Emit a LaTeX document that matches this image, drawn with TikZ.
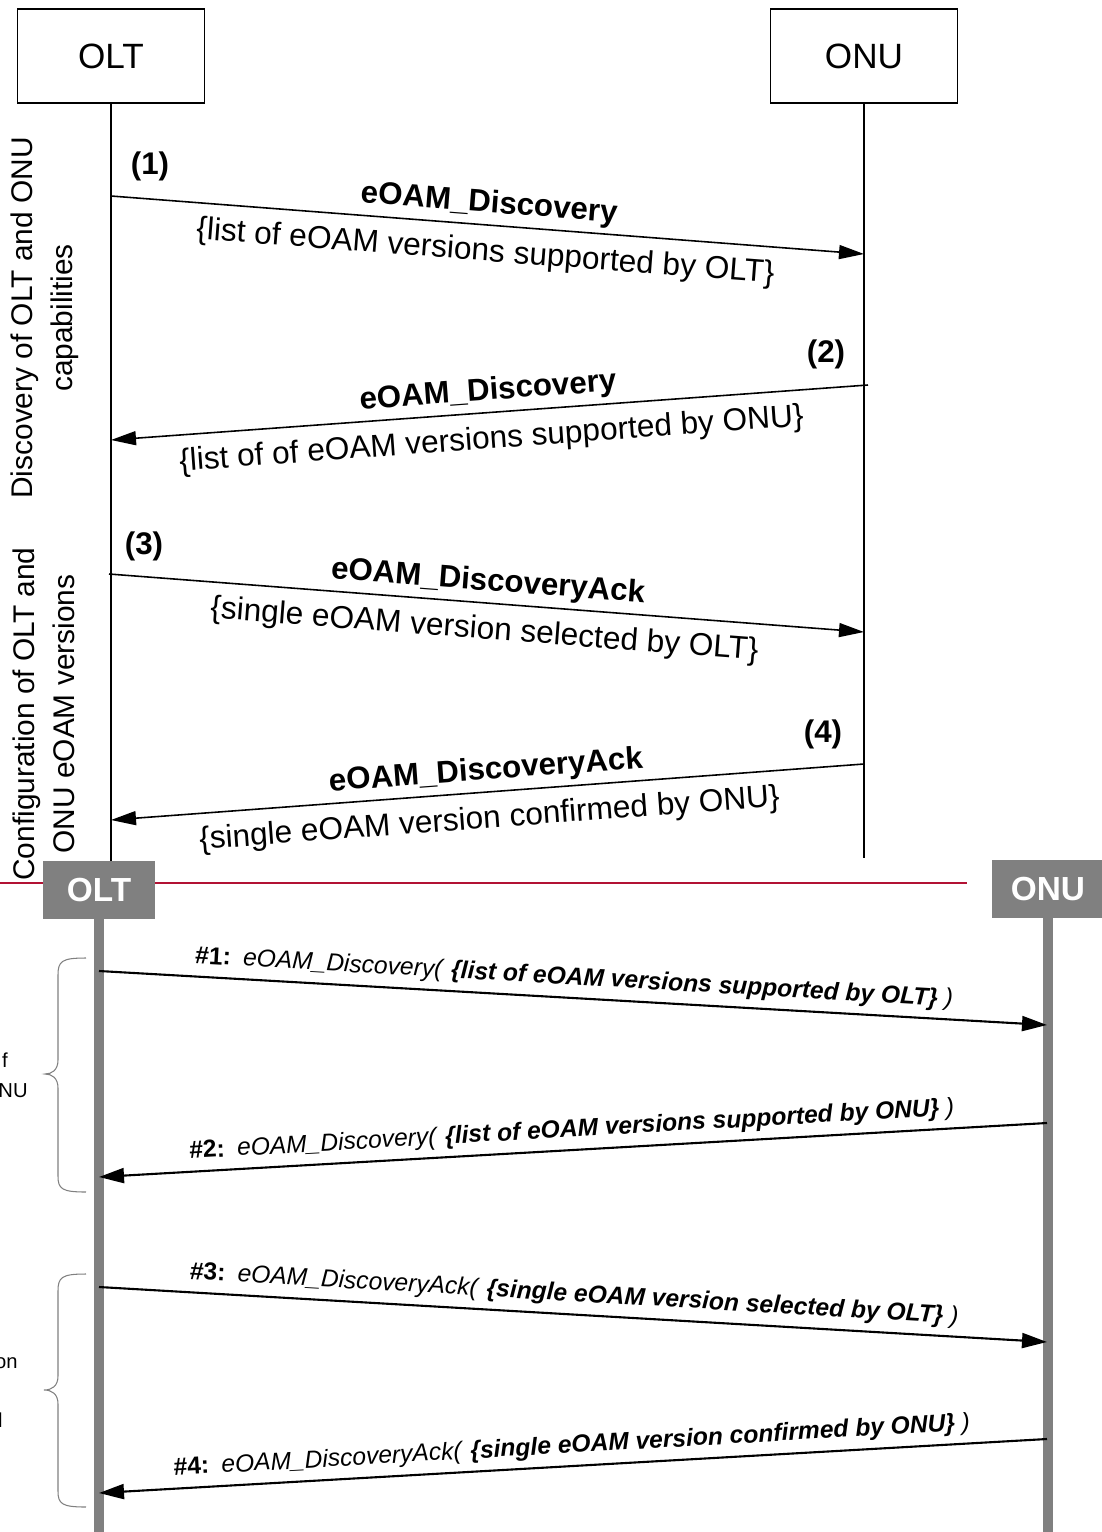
\documentclass[tikz,border=0pt]{standalone}
\usepackage{fontspec}
\setmainfont{Liberation Sans}
\usetikzlibrary{arrows.meta,positioning,calc}

\definecolor{hdrgray}{RGB}{128,128,128}
\definecolor{sepred}{RGB}{178,18,52}

\newcommand{\boxfont}{\fontsize{20pt}{24pt}\selectfont}
\newcommand{\hdrfont}{\fontsize{19pt}{23pt}\selectfont}
\newcommand{\msgfont}{\fontsize{17.8pt}{21pt}\selectfont}
\newcommand{\argfont}{\fontsize{18pt}{22pt}\selectfont}
\newcommand{\sidefont}{\fontsize{17pt}{23pt}\selectfont}
\newcommand{\hashfont}{\fontsize{14pt}{17pt}\selectfont}
\newcommand{\cutfont}{\fontsize{11.5pt}{14pt}\selectfont}

\begin{document}
\begin{tikzpicture}[x=0.02cm, y=-0.02cm,
  actor/.style={draw, line width=1.1pt, minimum width=3.74cm, minimum height=1.88cm, font=\boxfont},
  hdr/.style={fill=hdrgray, text=white, minimum width=2.24cm, minimum height=1.16cm, font=\hdrfont\bfseries},
  life/.style={line width=0.9pt},
  glife/.style={hdrgray, line width=0.21cm},
  msg/.style={line width=0.9pt, -{Triangle[length=0.5cm,width=0.28cm]}},
  bmsg/.style={line width=1.2pt, -{Triangle[length=0.5cm,width=0.3cm]}},
  num/.style={font=\msgfont\bfseries},
  mname/.style={font=\msgfont\bfseries, inner sep=3pt},
  margs/.style={font=\argfont, inner sep=2pt},
  hcall/.style={font=\hashfont, inner sep=4pt},
  brc/.style={hdrgray, line width=0.6pt},
]
  \useasboundingbox (0,0) rectangle (1102,1532);

  % upper chart: plain boxes and thin lifelines
  \node[actor] (olt) at (111,56) {OLT};
  \node[actor] (onu) at (864,56) {ONU};
  \coordinate (oltend) at (111,862);
  \coordinate (onuend) at (864,858);
  \draw[life] (olt.south) -- (oltend);
  \draw[life] (onu.south) -- (onuend);

  % phase labels
  \node[rotate=90, align=center, font=\sidefont] (disc) at (45,318)
    {Discovery of OLT and ONU\\capabilities};
  \node[rotate=90, align=center, font=\sidefont] (conf) at (44,714)
    {Configuration of OLT and\\ONU eOAM versions};

  % messages (1)-(4)
  \coordinate (a1) at (111,196);
  \coordinate (b1) at (864,254);
  \coordinate (a2) at (868,385);
  \coordinate (b2) at (111,440);
  \coordinate (a3) at (109,574);
  \coordinate (b3) at (864,632);
  \coordinate (a4) at (864,764);
  \coordinate (b4) at (111,820);

  \draw[msg] (a1) -- (b1)
    node[midway, sloped, above, mname] {eOAM\_Discovery}
    node[midway, sloped, below, margs, yshift=-5pt] {\{list of eOAM versions supported by OLT\}};
  \draw[msg] (a2) -- (b2)
    node[midway, sloped, above, mname] {eOAM\_Discovery}
    node[midway, sloped, below, margs, yshift=-5pt] {\{list of of eOAM versions supported by ONU\}};
  \draw[msg] (a3) -- (b3)
    node[midway, sloped, above, mname] {eOAM\_DiscoveryAck}
    node[midway, sloped, below, margs, yshift=-5pt] {\{single eOAM version selected by OLT\}};
  \draw[msg] (a4) -- (b4)
    node[midway, sloped, above, mname] {eOAM\_DiscoveryAck}
    node[midway, sloped, below, margs, yshift=-5pt] {\{single eOAM version confirmed by ONU\}};

  \node[num] (n1) at (150,166) {(1)};
  \node[num] (n2) at (826,354) {(2)};
  \node[num] (n3) at (144,546) {(3)};
  \node[num] (n4) at (823,734) {(4)};

  % separator
  \draw[sepred, line width=1.1pt] (0,883) -- (967,883);

  % lower chart: grey headers and thick lifelines
  \node[hdr] (olt2) at (99,890) {OLT};
  \node[hdr] (onu2) at (1048,889) {ONU};
  \coordinate (olt2end) at (99,1532);
  \coordinate (onu2end) at (1048,1532);
  \draw[glife] (olt2.south) -- (olt2end);
  \draw[glife] (onu2.south) -- (onu2end);

  \coordinate (c1) at (99,971);
  \coordinate (d1) at (1047,1025);
  \coordinate (c2) at (1047,1123);
  \coordinate (d2) at (99,1177);
  \coordinate (c3) at (99,1287);
  \coordinate (d3) at (1047,1342);
  \coordinate (c4) at (1047,1439);
  \coordinate (d4) at (99,1493);

  \draw[bmsg] (c1) -- (d1) node[midway, sloped, above, hcall]
    {\textbf{\#1:}\enspace\textit{eOAM\_Discovery(} \textbf{\textit{\{list of eOAM versions supported by OLT\}}}\textit{\ )}};
  \draw[bmsg] (c2) -- (d2) node[midway, sloped, above, hcall]
    {\textbf{\#2:}\enspace\textit{eOAM\_Discovery(} \textbf{\textit{\{list of eOAM versions supported by ONU\}}}\textit{\ )}};
  \draw[bmsg] (c3) -- (d3) node[midway, sloped, above, hcall]
    {\textbf{\#3:}\enspace\textit{eOAM\_DiscoveryAck(} \textbf{\textit{\{single eOAM version selected by OLT\}}}\textit{\ )}};
  \draw[bmsg] (c4) -- (d4) node[midway, sloped, above, hcall]
    {\textbf{\#4:}\enspace\textit{eOAM\_DiscoveryAck(} \textbf{\textit{\{single eOAM version confirmed by ONU\}}}\textit{\ )}};

  % braces and the cut-off group texts
  \draw[brc] (86,958) .. controls (62,958) and (58,961) .. (58,975) -- (58,1060)
    .. controls (58,1070) and (52,1074) .. (45,1074)
    .. controls (52,1074) and (58,1078) .. (58,1088) -- (58,1176)
    .. controls (58,1189) and (62,1192) .. (86,1192);
  \draw[brc] (86,1274) .. controls (62,1274) and (58,1277) .. (58,1291) -- (58,1376)
    .. controls (58,1386) and (52,1390) .. (44,1390)
    .. controls (52,1390) and (58,1394) .. (58,1404) -- (58,1491)
    .. controls (58,1504) and (62,1507) .. (86,1507);

  \node[anchor=base east, inner sep=0pt, font=\cutfont] (g1a) at (8,1067) {f};
  \node[anchor=base east, inner sep=0pt, font=\cutfont] (g1b) at (28,1097) {NU};
  \node[anchor=base east, inner sep=0pt, font=\cutfont] (g2a) at (18,1368) {on};
  \node[anchor=base east, inner sep=0pt, font=\cutfont] (g2b) at (3,1427) {l};
\end{tikzpicture}
\end{document}
